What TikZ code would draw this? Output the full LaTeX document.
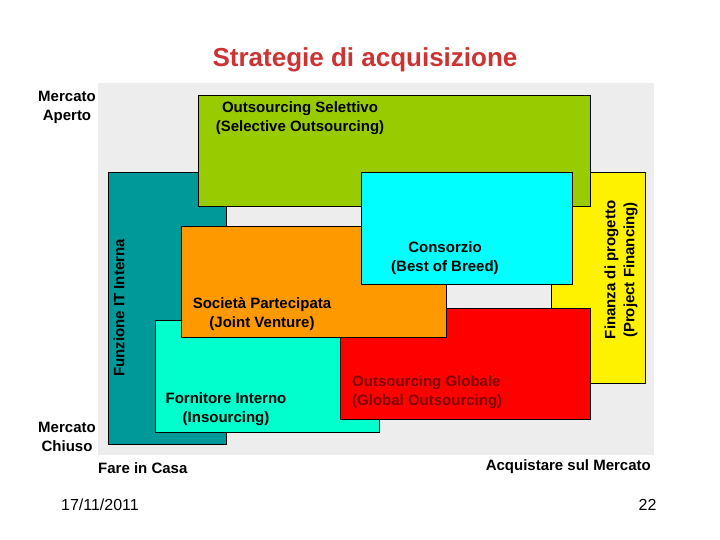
\documentclass[tikz,border=0pt]{standalone}
\usepackage{fontspec}
\setmainfont{Liberation Sans}
\begin{document}
\begin{tikzpicture}[x=1pt,y=-1pt,
  box/.style={draw=black,line width=0.8pt},
  lbl/.style={font=\bfseries\fontsize{15}{19}\selectfont,align=center,inner sep=0pt}]
\useasboundingbox (0,0) rectangle (720,540);
\fill[white] (0,0) rectangle (720,540);
\fill[black!7] (98,83) rectangle (654,455);
\draw[box,fill=yellow] (551,172) rectangle (645,383);
\draw[box,fill={rgb,255:red,0;green,153;blue,153}] (108,172) rectangle (226,444);
\draw[box,fill={rgb,255:red,153;green,204;blue,0}] (198,95) rectangle (590,206);
\draw[box,fill={rgb,255:red,0;green,255;blue,204}] (155,320) rectangle (379,432);
\draw[box,fill=red] (340,308) rectangle (590,419);
\draw[box,fill={rgb,255:red,255;green,153;blue,0}] (181,226) rectangle (446,337);
\draw[box,fill={rgb,255:red,0;green,255;blue,255}] (361,172) rectangle (572,284);
\node[font=\bfseries\fontsize{26}{30}\selectfont,text={rgb,255:red,204;green,51;blue,51}] (t) at (365,60) {Strategie di acquisizione};
\node[lbl] (ma) at (67,107) {Mercato\\Aperto};
\node[lbl] (mc) at (67,437) {Mercato\\Chiuso};
\node[lbl,anchor=west] (fc) at (98,468) {Fare in Casa};
\node[lbl,anchor=east] (am) at (651,467) {Acquistare sul Mercato};
\node[lbl] (os) at (300,118) {Outsourcing Selettivo\\(Selective Outsourcing)};
\node[lbl,rotate=90] (fi) at (119,308) {Funzione IT Interna};
\node[lbl] (sp) at (262,314) {Società Partecipata\\(Joint Venture)};
\node[lbl] (fo) at (226,409) {Fornitore Interno\\(Insourcing)};
\node[lbl] (co) at (445,258) {Consorzio\\(Best of Breed)};
\node[lbl,align=left,anchor=west,text={rgb,255:red,128;green,0;blue,0}] (og) at (352,392) {Outsourcing Globale\\(Global Outsourcing)};
\node[lbl,rotate=90] (fp) at (621,270) {Finanza di progetto\\(Project Financing)};
\node[font=\fontsize{16}{18}\selectfont] (d) at (100,505) {17/11/2011};
\node[font=\fontsize{16}{18}\selectfont,anchor=east] (p) at (660,505) {22};
\end{tikzpicture}
\end{document}
